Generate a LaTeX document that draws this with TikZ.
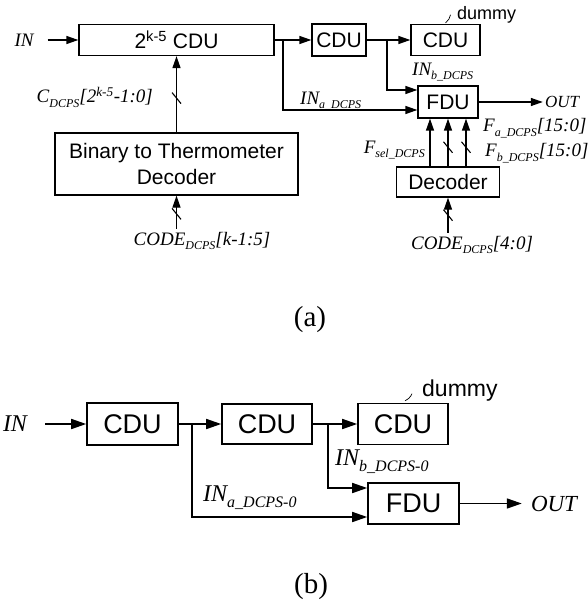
\documentclass[tikz,border=0pt]{standalone}
\usepackage{fontspec}
\setmainfont{Liberation Serif}
\newfontfamily\blkfont{Liberation Sans}
\usetikzlibrary{arrows.meta, positioning, calc}
\newcommand\subs[2]{\raisebox{-.25em}{\fontsize{#1}{#1}\selectfont\itshape #2}}
\tikzset{
  blk/.style    = {draw, line width=1.3pt, inner sep=0pt, align=center,
                   font=\blkfont\fontsize{21}{26}\selectfont},
  blkb/.style   = {blk, line width=1.6pt, font=\blkfont\fontsize{27}{30}\selectfont},
  lbl/.style    = {inner sep=0pt, font=\fontsize{19}{21}\selectfont\itshape},
  lblb/.style   = {inner sep=0pt, font=\fontsize{24}{26}\selectfont\itshape},
  dmytxt/.style = {inner sep=0pt, anchor=west},
  caption/.style= {inner sep=0pt, font=\fontsize{29}{29}\selectfont},
  sig/.style    = {-{Triangle[length=12pt, width=8pt]}, line width=1.3pt},
  sigb/.style   = {-{Triangle[length=15pt, width=10pt]}, line width=1.6pt},
  leader/.style = {line width=0.7pt},
  bus/.pic      = {\draw[-, line width=1.1pt] (-4.5pt,5.5pt) -- (4.5pt,-5.5pt);},
}

\begin{document}
\begin{tikzpicture}[x=1pt, y=-1pt]
    \useasboundingbox (0,0) rectangle (587,604);

    % (a)
    \node[lbl] (ina) at (24,40) {IN};
    \node[blk, minimum width=195pt, minimum height=31pt] (cdua) at (176.5,40) {2\textsuperscript{k-5} CDU};
    \node[blk, minimum width=54pt, minimum height=32pt]  (cdub) at (339,40) {CDU};
    \node[blk, minimum width=69pt, minimum height=31pt]  (dmya) at (445.5,40) {CDU};
    \node[blk, minimum width=60pt, minimum height=32pt]  (fdua) at (448,102) {FDU};
    \node[blk, minimum width=243pt, minimum height=62pt] (btd)  at (176.5,164) {Binary to Thermometer\\Decoder};
    \node[blk, minimum width=103pt, minimum height=30pt] (deca) at (448,182) {Decoder};
    \node[lbl, font=\fontsize{17}{19}\selectfont\itshape] (outa) at (562,102) {OUT};
    \node[dmytxt, font=\blkfont\fontsize{18}{18}\selectfont] (dmtxta) at (457,15) {dummy};

    \node[lbl, anchor=east] (cdcps) at (153,97) {C\subs{12}{DCPS}[2\textsuperscript{k-5}-1:0]};
    \node[lbl, anchor=west] (inalbl) at (300,101) {IN\subs{12}{a\_DCPS}};
    \node[lbl, anchor=west] (inblbl) at (412,72) {IN\subs{12}{b\_DCPS}};
    \node[lbl, anchor=east] (fsel) at (425,150) {F\subs{12}{sel\_DCPS}};
    \node[lbl, anchor=west] (fa) at (483,128) {F\subs{12}{a\_DCPS}[15:0]};
    \node[lbl, anchor=west] (fb) at (485,153) {F\subs{12}{b\_DCPS}[15:0]};
    \node[lbl] (codealbl) at (202,241) {CODE\subs{12}{DCPS}[k-1:5]};
    \node[lbl] (codeblbl) at (472,245) {CODE\subs{12}{DCPS}[4:0]};

    \coordinate (codea) at ([yshift=3pt]codealbl.north -| btd.south);
    \coordinate (codeb) at ([yshift=3pt]codeblbl.north -| deca.south);
    \coordinate (ja) at (283,40);
    \coordinate (jb) at (387,40);

    \draw[sig, shorten <=14pt] (ina.east) -- (cdua.west);
    \draw[sig] (cdua) -- (cdub);
    \draw[sig] (cdub) -- (dmya);
    \draw[sig] (ja) |- ([yshift=-8pt]fdua.west);
    \draw[sig] (jb) |- ([yshift=12pt]fdua.west);
    \draw[sig, shorten >=2pt] (fdua) -- (outa);
    \draw[sig] (btd) -- pic[pos=.45]{bus} (cdua);
    \draw[sig] (codea) -- pic[pos=.45]{bus} (btd.south);
    \draw[sig] ([xshift=-18pt]deca.north) -- ([xshift=-18pt]fdua.south);
    \foreach \dx in {0,18}
      \draw[sig] ([xshift=\dx pt]deca.north) -- pic[pos=.4]{bus} ([xshift=\dx pt]fdua.south);
    \draw[sig] (codeb) -- pic[pos=.5]{bus} (deca.south);
    \draw[leader] ([yshift=1pt]dmya.north) to[bend right=20] ++(5,-8);

    \node[caption] (capa) at (310,320) {(a)};

    % (b)
    \node[lblb] (inb) at (15,424) {IN};
    \node[blkb, minimum width=91pt, minimum height=42pt] (cdu1b) at (132.5,424) {CDU};
    \node[blkb, minimum width=90pt, minimum height=40pt] (cdu2b) at (267,424) {CDU};
    \node[blkb, minimum width=90pt, minimum height=41pt] (dmyb)  at (403,424) {CDU};
    \node[blkb, minimum width=91pt, minimum height=41pt] (fdub)  at (413.5,503.5) {FDU};
    \node[lblb, font=\fontsize{23}{25}\selectfont\itshape] (outb) at (554,503.5) {OUT};
    \node[dmytxt, font=\blkfont\fontsize{23}{23}\selectfont] (dmtxtb) at (422,391) {dummy};

    \node[lblb, anchor=west] (inalblb) at (203,498) {IN\subs{16}{a\_DCPS-0}};
    \node[lblb, anchor=west] (inblblb) at (335,462) {IN\subs{16}{b\_DCPS-0}};

    \coordinate (jc) at (192,424);
    \coordinate (jd) at (328,424);

    \draw[sigb, shorten <=18pt] (inb.east) -- (cdu1b.west);
    \draw[sigb] (cdu1b) -- (cdu2b);
    \draw[sigb] (cdu2b) -- (dmyb);
    \draw[sigb] (jc) |- ([yshift=-13.5pt]fdub.west);
    \draw[sigb] (jd) |- ([yshift=15.5pt]fdub.west);
    \draw[sigb, shorten >=9pt] (fdub) -- (outb);
    \draw[leader] ([xshift=2pt, yshift=2pt]dmyb.north) to[bend right=20] ++(7,-7);

    \node[caption] (capb) at (311,587) {(b)};
\end{tikzpicture}
\end{document}
